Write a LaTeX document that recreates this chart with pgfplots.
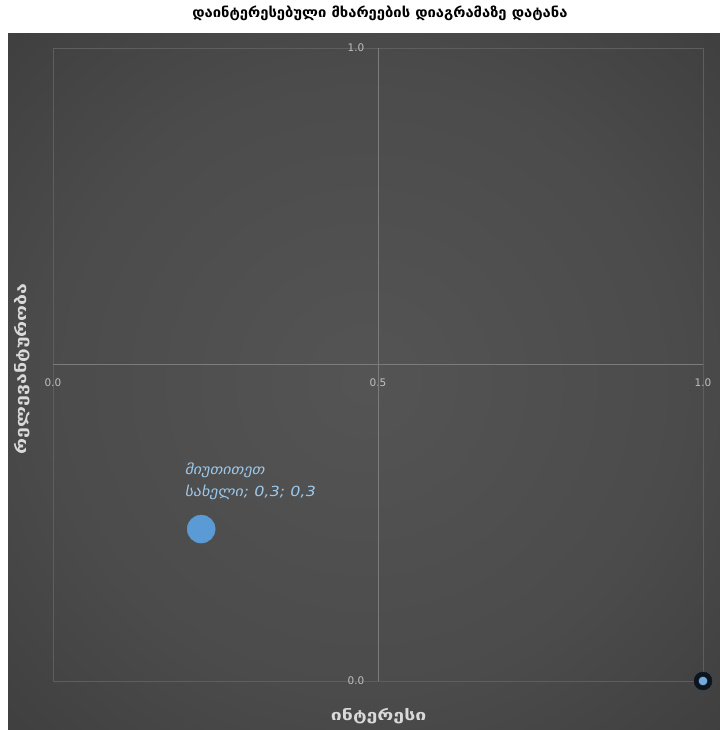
\documentclass[border=0pt]{standalone}
\usepackage{fontspec}
\setmainfont{DejaVu Sans}
\newfontfamily\slantfont[FakeSlant=0.2,FakeStretch=1.15]{DejaVu Sans}
\newfontfamily\labfont[FakeStretch=1.33]{DejaVu Sans}
\newfontfamily\titfont[FakeStretch=1.06]{DejaVu Sans}
\usepackage{pgfplots}
\pgfplotsset{compat=1.18}
\definecolor{gridc}{HTML}{7C7C7C}
\definecolor{borderc}{HTML}{5E5E5E}
\definecolor{tickc}{HTML}{BFBFBF}
\definecolor{labc}{HTML}{D9D9D9}
\definecolor{bubble}{HTML}{5B9BD5}
\definecolor{dlab}{HTML}{9DC8EA}
\definecolor{darkpt}{HTML}{0B1520}
\pgfdeclareradialshading{bgshade}{\pgfpoint{0bp}{0bp}}{%
  rgb(0bp)=(0.33,0.33,0.33);
  rgb(22bp)=(0.295,0.295,0.295);
  rgb(45bp)=(0.215,0.215,0.215);
  rgb(71bp)=(0.155,0.155,0.155)}
\begin{document}
\begin{tikzpicture}[x=1bp,y=1bp]
\path[use as bounding box] (0,0) rectangle (720,730);
\shade[shading=bgshade] (8,0) rectangle (720,696);
\begin{axis}[
  at={(53bp,49bp)}, anchor=south west,
  scale only axis, width=650bp, height=633bp,
  xmin=0, xmax=1, ymin=0, ymax=1,
  clip=false,
  axis line style={borderc, line width=0.6bp},
  xtick={0,0.5,1}, xticklabels={0.0,0.5,1.0},
  ytick={0,1}, yticklabels={0.0,1.0},
  extra x ticks={0.5}, extra x tick labels={},
  extra y ticks={0.5}, extra y tick labels={},
  extra tick style={grid=major},
  major tick length=0,
  grid style={gridc, line width=0.9bp},
  xticklabel style={anchor=center, yshift=298bp, font=\fontsize{10.5}{12}\selectfont, text=tickc},
  yticklabel style={anchor=center, xshift=303bp, font=\fontsize{10.5}{12}\selectfont, text=tickc},
  every axis title shift=0pt,
  title={დაინტერესებული მხარეების დიაგრამაზე დატანა},
  title style={at={(axis description cs:0.503,1.054)}, anchor=center, font=\titfont\bfseries\fontsize{14}{16}\selectfont, text=black},
  xlabel={ინტერესი},
  xlabel style={at={(axis description cs:0.501,-0.0553)}, anchor=center, font=\labfont\bfseries\fontsize{14.7}{17}\selectfont, text=labc},
  ylabel={რელევანტურობა},
  ylabel style={at={(axis description cs:-0.0477,0.493)}, anchor=center, font=\labfont\bfseries\fontsize{14.7}{17}\selectfont, text=labc},
]
\addplot[only marks, mark=*, mark size=14bp, mark options={fill=bubble, draw=bubble}] coordinates {(0.228,0.240)};
\addplot[only marks, mark=*, mark size=9bp, mark options={fill=darkpt, draw=darkpt}] coordinates {(1,0)};
\addplot[only marks, mark=*, mark size=4.8bp, mark options={fill=bubble!85!white, draw=none}] coordinates {(1,0)};
\node[anchor=west, align=left, inner sep=0pt, text=dlab, font=\slantfont\fontsize{14}{22}\selectfont] at (axis cs:0.202,0.316) {მიუთითეთ\\სახელი; 0,3; 0,3};
\end{axis}
\end{tikzpicture}
\end{document}
